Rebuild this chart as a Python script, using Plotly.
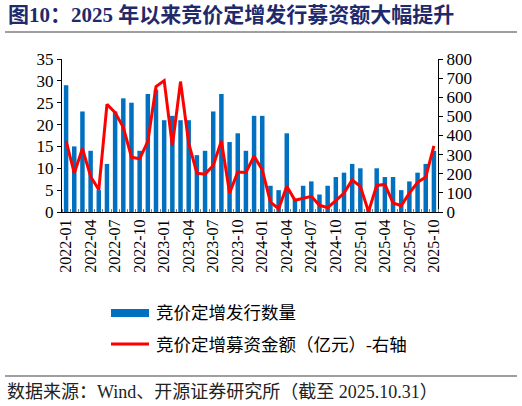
import plotly.graph_objects as go

months = [f"{y}-{m:02d}" for y in (2022, 2023, 2024, 2025) for m in range(1, 13)][:46]

issue_count = [29, 15, 23, 14, 5, 11, 23, 26, 25, 14, 27, 28,
               21, 22, 21, 21, 13, 14, 23, 27, 16, 18, 14, 22,
               22, 6, 5, 18, 3, 6, 7, 4, 6, 8, 9, 11,
               10, 1, 10, 8, 8, 5, 7, 9, 11, 14]

raise_amount = [372, 203, 332, 186, 116, 563, 520, 443, 287, 278, 369, 656,
                687, 346, 682, 360, 203, 198, 243, 372, 99, 209, 207, 292,
                221, 52, 17, 134, 61, 70, 82, 35, 23, 59, 99, 167,
                134, 2, 139, 144, 47, 33, 99, 155, 183, 346]

bar_name = "竞价定增发行数量"
line_name = "竞价定增募资金额（亿元）-右轴"
title_text = "图10：2025 年以来竞价定增发行募资额大幅提升"
source_text = "数据来源：Wind、开源证券研究所（截至 2025.10.31）"

FONT = "Liberation Serif, Times New Roman, Noto Sans CJK SC"
CJK = "Liberation Serif, Noto Sans CJK SC"

idx = list(range(len(months)))
label_idx = idx[::3]

fig = go.Figure()
fig.add_trace(go.Bar(x=idx, y=issue_count, name=bar_name,
                     marker=dict(color="#0070C0", line=dict(width=0)),
                     yaxis="y", showlegend=False))
fig.add_trace(go.Scatter(x=idx, y=raise_amount, name=line_name, mode="lines",
                         line=dict(color="#FF0000", width=3),
                         yaxis="y2", showlegend=False))

W, H = 522, 406
L, R, T, B = 62, 438, 59, 212
pw, ph = R - L, B - T

def px(x):
    return (x - L) / pw

def py(y):
    return (B - y) / ph

shapes = [
    dict(type="line", xref="paper", yref="paper", x0=px(5), x1=px(517), y0=py(32), y1=py(32),
         line=dict(color="#404040", width=1.2)),
    dict(type="line", xref="paper", yref="paper", x0=px(5), x1=px(517), y0=py(376), y1=py(376),
         line=dict(color="#404040", width=1.2)),
    dict(type="rect", xref="paper", yref="paper", x0=px(111), x1=px(149), y0=py(317), y1=py(309),
         fillcolor="#0070C0", line=dict(width=0)),
    dict(type="line", xref="paper", yref="paper", x0=px(111), x1=px(149), y0=py(344), y1=py(344),
         line=dict(color="#FF0000", width=3)),
]

annotations = [
    dict(text=f"<b>{title_text}</b>", xref="paper", yref="paper", x=px(6), y=py(15),
         xanchor="left", yanchor="middle", showarrow=False,
         font=dict(family=CJK, size=21, color="#1F2A6B")),
    dict(text=bar_name, xref="paper", yref="paper", x=px(154), y=py(313),
         xanchor="left", yanchor="middle", showarrow=False,
         font=dict(family=CJK, size=17.5, color="#000000")),
    dict(text=line_name, xref="paper", yref="paper", x=px(154), y=py(345),
         xanchor="left", yanchor="middle", showarrow=False,
         font=dict(family=CJK, size=17.5, color="#000000")),
    dict(text=source_text, xref="paper", yref="paper", x=px(5), y=py(392),
         xanchor="left", yanchor="middle", showarrow=False,
         font=dict(family=CJK, size=18, color="#222222")),
]

fig.update_layout(
    width=W, height=H,
    margin=dict(l=L, r=W - R, t=T, b=H - B, pad=0),
    paper_bgcolor="white", plot_bgcolor="white",
    bargap=0.45,
    font=dict(family=FONT, size=16, color="#000000"),
    xaxis=dict(range=[-0.5, len(months) - 0.5], tickvals=label_idx,
               ticktext=[months[i] for i in label_idx], tickangle=-90,
               tickfont=dict(family=FONT, size=16),
               showgrid=False, zeroline=False, showline=True, linecolor="#000000", linewidth=1,
               ticks="",
               minor=dict(tick0=-0.5, dtick=1, ticks="inside", ticklen=3, tickcolor="#808080",
                          showgrid=False)),
    yaxis=dict(range=[0, 35], dtick=5, showgrid=False, zeroline=False,
               showline=True, linecolor="#000000", linewidth=1,
               ticks="outside", ticklen=4, tickcolor="#000000",
               tickfont=dict(family=FONT, size=17)),
    yaxis2=dict(range=[0, 800], dtick=100, overlaying="y", side="right",
                showgrid=False, zeroline=False,
                showline=True, linecolor="#000000", linewidth=1,
                ticks="outside", ticklen=4, tickcolor="#000000",
                tickfont=dict(family=FONT, size=17)),
    shapes=shapes,
    annotations=annotations,
)

fig.write_html("out.html", config={"displayModeBar": False},
               post_script="document.body.style.margin='0';document.body.style.padding='0';document.body.style.overflow='hidden';")
